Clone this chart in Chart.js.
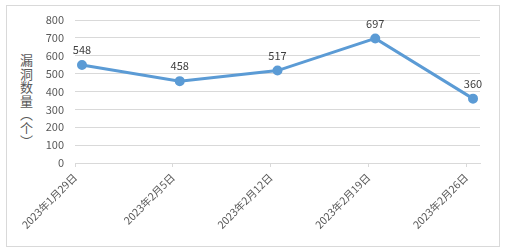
<!DOCTYPE html>
<html><head><meta charset="utf-8">
<script src="https://cdn.jsdelivr.net/npm/chart.js@4/dist/chart.umd.min.js"></script>
<style>
html,body{margin:0;padding:0;background:#fff;}
#wrap{position:relative;width:505px;height:252px;}
#frame{position:absolute;left:6px;top:5px;width:492px;height:240px;border:1px solid #d9d9d9;}
#ytitle{position:absolute;left:18px;top:54px;writing-mode:vertical-rl;font:13px "Noto Sans CJK SC";color:#595959;letter-spacing:0.5px;line-height:16px;}
canvas{position:absolute;left:0;top:0;}
</style></head><body>
<div id="wrap"><div id="frame"></div><div id="ytitle">漏洞数量（个）</div><canvas id="c" width="505" height="252"></canvas></div>
<script>
const categories = ["2023年1月29日","2023年2月5日","2023年2月12日","2023年2月19日","2023年2月26日"];
const dayOffsets = [0,7,14,21,28];
const values = [548,458,517,697,360];
const yTicks = [0,100,200,300,400,500,600,700,800];

const labelPlugin = {
  id:'vlabels',
  afterDatasetsDraw(chart){
    const ctx = chart.ctx;
    const meta = chart.getDatasetMeta(0);
    ctx.save();
    ctx.font = '11px "Noto Sans CJK SC"';
    ctx.fillStyle = '#404040';
    ctx.textAlign = 'center';
    ctx.textBaseline = 'middle';
    meta.data.forEach((p,i)=>{ ctx.fillText(String(values[i]), p.x, p.y-15); });
    ctx.restore();
  }
};

new Chart(document.getElementById('c'),{
  type:'line',
  data:{datasets:[{
    data: values.map((v,i)=>({x:dayOffsets[i]+0.5,y:v})),
    borderColor:'#5b9bd5', backgroundColor:'#5b9bd5',
    borderWidth:3, pointRadius:3.5, pointHoverRadius:3.5, tension:0, clip:false
  }]},
  options:{
    responsive:false, animation:false,
    layout:{padding:{left:0,right:25,top:20,bottom:0}},
    plugins:{legend:{display:false},tooltip:{enabled:false}},
    scales:{
      x:{type:'linear',min:0,max:29,
        afterBuildTicks(s){ s.ticks = dayOffsets.map(v=>({value:v})); },
        afterFit(s){ s.height = 89; },
        grid:{display:true,drawOnChartArea:false,drawTicks:true,tickLength:4,color:'#d9d9d9'},
        border:{display:true,color:'#d9d9d9'},
        ticks:{autoSkip:false,maxRotation:45,minRotation:45,padding:4,color:'#595959',
          font:{family:'"Noto Sans CJK SC"',size:10.5},
          callback(v){ const i = dayOffsets.indexOf(v); return i>=0?categories[i]:''; }}
      },
      y:{min:0,max:800,
        afterBuildTicks(s){ s.ticks = yTicks.map(v=>({value:v})); },
        afterFit(s){ s.width = 75; },
        grid:{color:'#d9d9d9',drawTicks:false,lineWidth:1},
        border:{display:false},
        ticks:{padding:11,color:'#595959',font:{family:'"Noto Sans CJK SC"',size:11}}
      }
    }
  },
  plugins:[labelPlugin]
});
</script></body></html>
